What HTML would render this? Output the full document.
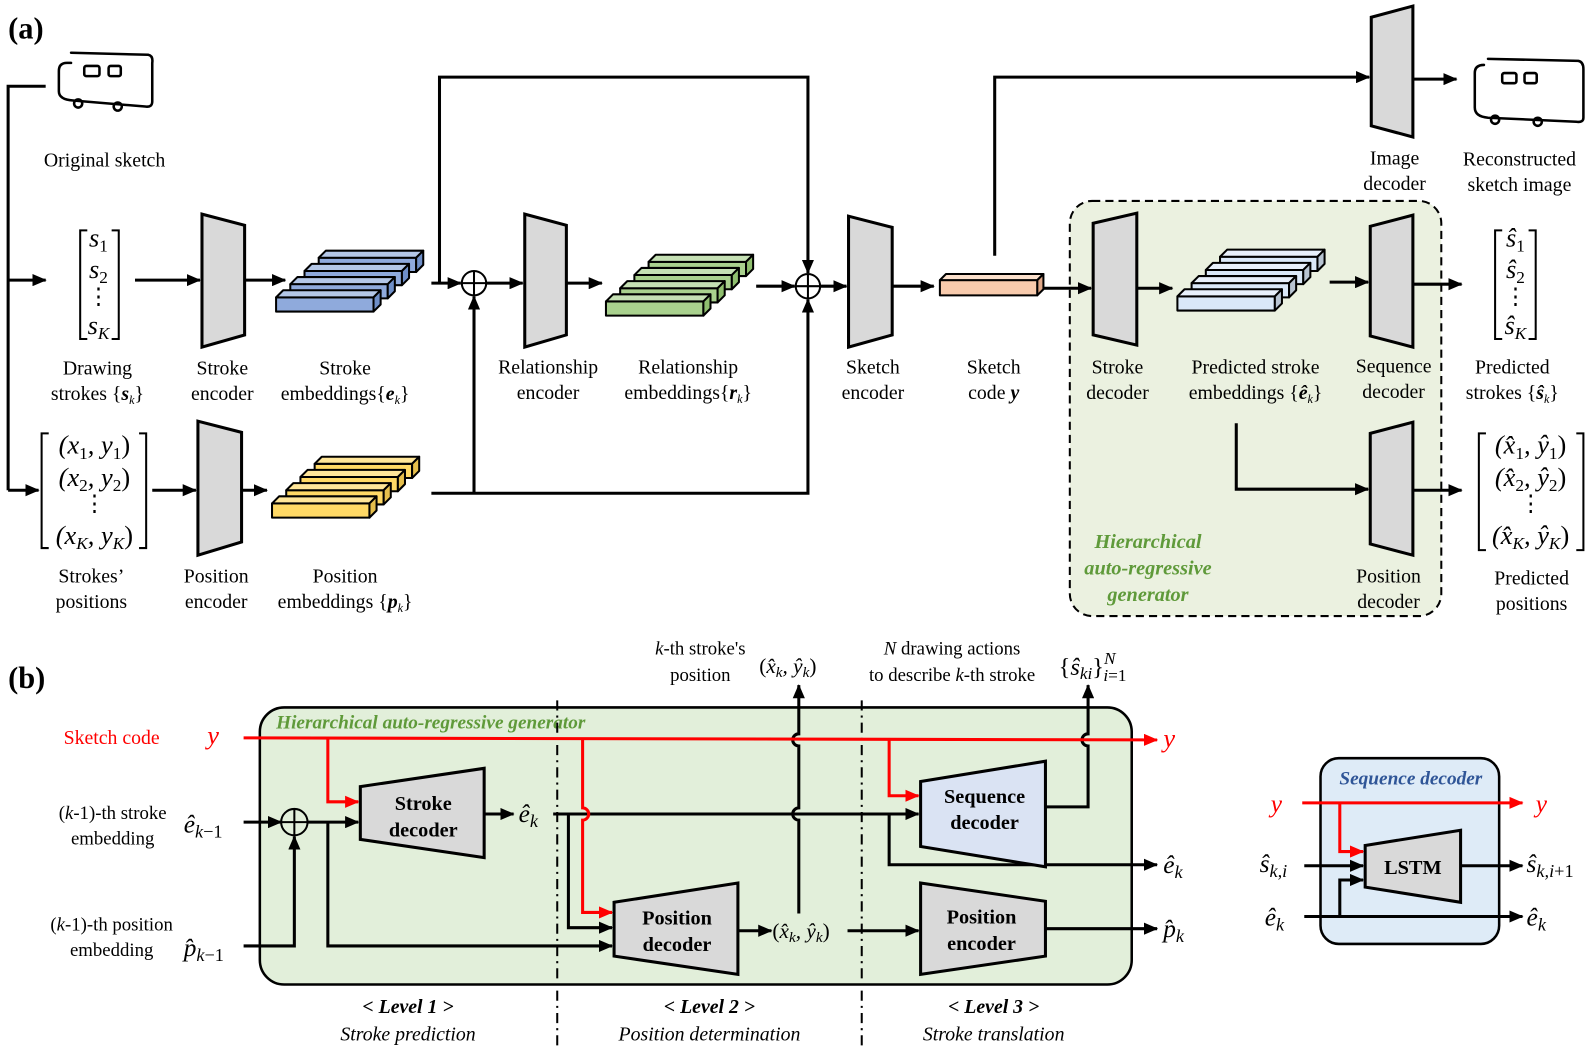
<!DOCTYPE html>
<html><head><meta charset="utf-8">
<style>
html,body{margin:0;padding:0;background:#fff;}
svg{display:block;}
text{font-family:"Liberation Serif","DejaVu Serif",serif;}
.t{font-size:19.5px;fill:#000;text-anchor:middle;}
.m{font-style:italic;}
.b{font-weight:bold;}
</style></head><body>
<svg width="1594" height="1047" viewBox="0 0 1594 1047" xmlns="http://www.w3.org/2000/svg">
<defs>
<marker id="a" markerUnits="userSpaceOnUse" markerWidth="14" markerHeight="12" refX="13" refY="6" orient="auto"><path d="M0,0 L14,6 L0,12 z" fill="#000"/></marker>
<marker id="r" markerUnits="userSpaceOnUse" markerWidth="14" markerHeight="12" refX="13" refY="6" orient="auto"><path d="M0,0 L14,6 L0,12 z" fill="#f00"/></marker>
</defs>
<g transform="translate(0,2) scale(1.015)">
<text x="8" y="36" style="font-size:30px;font-weight:bold">(a)</text>
<g fill="none" stroke="#000" stroke-width="2.5" stroke-linecap="round">
<path d="M70,50 L146,52 Q151,53 150,60 L150,98 Q150,104 143,103 L72,97 Q58,96 58,88 L58,68 Q58,60 66,60 L70,60"/>
<rect x="83" y="63" width="15" height="10" rx="2"/><rect x="107" y="63" width="12" height="10" rx="2"/>
<circle cx="77" cy="100" r="4"/><circle cx="116" cy="103" r="4"/>
</g>
<text class="t" x="103" y="162">Original sketch</text>
<g fill="none" stroke="#000" stroke-width="3">
<path d="M45,83 L8,83 L8,481"/>
<path d="M8,274 L45,274" marker-end="url(#a)"/>
<path d="M8,481 L38,481" marker-end="url(#a)"/>
<path d="M133,274 L197,274" marker-end="url(#a)"/>
<path d="M241,274 L281,274" marker-end="url(#a)"/>
<path d="M425,277 L454,277" marker-end="url(#a)"/>
<path d="M433,277 L433,74 L796,74 L796,267" marker-end="url(#a)"/>
<path d="M479,277 L515,277" marker-end="url(#a)"/>
<path d="M558,277 L593,277" marker-end="url(#a)"/>
<path d="M745,280 L783,280" marker-end="url(#a)"/>
<path d="M808,280 L834,280" marker-end="url(#a)"/>
<path d="M879,280 L920,280" marker-end="url(#a)"/>
<path d="M980,250 L980,74 L1349,74" marker-end="url(#a)"/>
<path d="M1392,76 L1435,76" marker-end="url(#a)"/>
<path d="M425,484 L796,484 L796,293" marker-end="url(#a)"/>
<path d="M467,484 L467,290" marker-end="url(#a)"/>
<path d="M150,481 L193,481" marker-end="url(#a)"/>
<path d="M238,481 L263,481" marker-end="url(#a)"/>
</g>
<g fill="#fff" stroke="#000" stroke-width="2">
<circle cx="467" cy="277" r="12"/><circle cx="796" cy="280" r="12"/>
</g>
<path d="M455,277 L479,277 M467,265 L467,289 M784,280 L808,280 M796,268 L796,292" stroke="#000" stroke-width="2"/>
<g fill="#d9d9d9" stroke="#000" stroke-width="3" stroke-linejoin="miter">
<polygon points="199,209 241,220 241,328 199,340"/>
<polygon points="517,209 558,220 558,328 517,340"/>
<polygon points="836,211 879,222 879,328 836,340"/>
<polygon points="195,413 238,424 238,532 195,545"/>
<polygon points="1351,15 1392,4 1392,133 1351,122"/>
</g>
<g stroke="#000" stroke-width="2" stroke-linejoin="round">
<g>
<g transform="translate(314,252)"><rect width="96" height="14" fill="#8faadc"/><polygon points="0,0 7,-7 103,-7 96,0" fill="#b4c7e7"/><polygon points="96,0 103,-7 103,7 96,14" fill="#6f8fc8"/></g>
<g transform="translate(300,265)"><rect width="96" height="14" fill="#8faadc"/><polygon points="0,0 7,-7 103,-7 96,0" fill="#b4c7e7"/><polygon points="96,0 103,-7 103,7 96,14" fill="#6f8fc8"/></g>
<g transform="translate(286,278)"><rect width="96" height="14" fill="#8faadc"/><polygon points="0,0 7,-7 103,-7 96,0" fill="#b4c7e7"/><polygon points="96,0 103,-7 103,7 96,14" fill="#6f8fc8"/></g>
<g transform="translate(272,291)"><rect width="96" height="14" fill="#8faadc"/><polygon points="0,0 7,-7 103,-7 96,0" fill="#b4c7e7"/><polygon points="96,0 103,-7 103,7 96,14" fill="#6f8fc8"/></g>
</g>
<g>
<g transform="translate(639,256)"><rect width="96" height="14" fill="#a9d18e"/><polygon points="0,0 7,-7 103,-7 96,0" fill="#c5e0b4"/><polygon points="96,0 103,-7 103,7 96,14" fill="#8fbf6f"/></g>
<g transform="translate(625,269)"><rect width="96" height="14" fill="#a9d18e"/><polygon points="0,0 7,-7 103,-7 96,0" fill="#c5e0b4"/><polygon points="96,0 103,-7 103,7 96,14" fill="#8fbf6f"/></g>
<g transform="translate(611,282)"><rect width="96" height="14" fill="#a9d18e"/><polygon points="0,0 7,-7 103,-7 96,0" fill="#c5e0b4"/><polygon points="96,0 103,-7 103,7 96,14" fill="#8fbf6f"/></g>
<g transform="translate(597,295)"><rect width="96" height="14" fill="#a9d18e"/><polygon points="0,0 7,-7 103,-7 96,0" fill="#c5e0b4"/><polygon points="96,0 103,-7 103,7 96,14" fill="#8fbf6f"/></g>
</g>
<g>
<g transform="translate(310,455)"><rect width="96" height="14" fill="#ffd966"/><polygon points="0,0 7,-7 103,-7 96,0" fill="#ffe699"/><polygon points="96,0 103,-7 103,7 96,14" fill="#e6bf4c"/></g>
<g transform="translate(296,468)"><rect width="96" height="14" fill="#ffd966"/><polygon points="0,0 7,-7 103,-7 96,0" fill="#ffe699"/><polygon points="96,0 103,-7 103,7 96,14" fill="#e6bf4c"/></g>
<g transform="translate(282,481)"><rect width="96" height="14" fill="#ffd966"/><polygon points="0,0 7,-7 103,-7 96,0" fill="#ffe699"/><polygon points="96,0 103,-7 103,7 96,14" fill="#e6bf4c"/></g>
<g transform="translate(268,494)"><rect width="96" height="14" fill="#ffd966"/><polygon points="0,0 7,-7 103,-7 96,0" fill="#ffe699"/><polygon points="96,0 103,-7 103,7 96,14" fill="#e6bf4c"/></g>
</g>
<g transform="translate(926,274)"><rect width="96" height="15" fill="#f8cbad"/><polygon points="0,0 6,-6 102,-6 96,0" fill="#fbe0cc"/><polygon points="96,0 102,-6 102,9 96,15" fill="#e0a888"/></g>
</g>
<rect x="1054" y="196" width="366" height="409" rx="22" fill="#ebf1e0" stroke="#000" stroke-width="2" stroke-dasharray="8,5"/>
<g fill="none" stroke="#000" stroke-width="3">
<path d="M1028,282 L1075,282" marker-end="url(#a)"/>
<path d="M1120,282 L1155,282" marker-end="url(#a)"/>
<path d="M1310,276 L1348,276" marker-end="url(#a)"/>
<path d="M1392,278 L1440,278" marker-end="url(#a)"/>
<path d="M1218,415 L1218,480 L1348,480" marker-end="url(#a)"/>
<path d="M1392,481 L1440,481" marker-end="url(#a)"/>
</g>
<g fill="#d9d9d9" stroke="#000" stroke-width="3">
<polygon points="1077,218 1120,208 1120,338 1077,328"/>
<polygon points="1350,221 1392,210 1392,340 1350,329"/>
<polygon points="1350,425 1392,414 1392,545 1350,534"/>
</g>
<g stroke="#000" stroke-width="2" stroke-linejoin="round">
<g transform="translate(1202,251)"><rect width="96" height="14" fill="#dae8f8"/><polygon points="0,0 7,-7 103,-7 96,0" fill="#e8f0fb"/><polygon points="96,0 103,-7 103,7 96,14" fill="#b8c4d2"/></g>
<g transform="translate(1188,264)"><rect width="96" height="14" fill="#dae8f8"/><polygon points="0,0 7,-7 103,-7 96,0" fill="#e8f0fb"/><polygon points="96,0 103,-7 103,7 96,14" fill="#b8c4d2"/></g>
<g transform="translate(1174,277)"><rect width="96" height="14" fill="#dae8f8"/><polygon points="0,0 7,-7 103,-7 96,0" fill="#e8f0fb"/><polygon points="96,0 103,-7 103,7 96,14" fill="#b8c4d2"/></g>
<g transform="translate(1160,290)"><rect width="96" height="14" fill="#dae8f8"/><polygon points="0,0 7,-7 103,-7 96,0" fill="#e8f0fb"/><polygon points="96,0 103,-7 103,7 96,14" fill="#b8c4d2"/></g>
</g>
<g fill="none" stroke="#000" stroke-width="2.5" stroke-linecap="round">
<path d="M1466,56 L1555,58 Q1560,59 1560,66 L1560,114 Q1560,119 1553,118 L1466,114 Q1453,113 1453,104 L1453,70 Q1453,62 1462,62"/>
<rect x="1480" y="70" width="14" height="10" rx="2"/><rect x="1502" y="70" width="12" height="10" rx="2"/>
<circle cx="1473" cy="116" r="4"/><circle cx="1515" cy="118" r="4"/>
</g>
<g fill="none" stroke="#000" stroke-width="2">
<path d="M86,225 L79,225 L79,332 L86,332 M110,225 L117,225 L117,332 L110,332"/>
<path d="M48,425 L41,425 L41,538 L48,538 M137,425 L144,425 L144,538 L137,538"/>
<path d="M1480,225 L1473,225 L1473,332 L1480,332 M1506,225 L1513,225 L1513,332 L1506,332"/>
<path d="M1464,425 L1457,425 L1457,540 L1464,540 M1553,425 L1560,425 L1560,540 L1553,540"/>
</g>
<g class="t m" style="font-size:26px">
<text x="97" y="241">s<tspan font-size="17" dy="5" font-style="normal">1</tspan></text>
<text x="97" y="272">s<tspan font-size="17" dy="5" font-style="normal">2</tspan></text>
<text x="97" y="297" style="font-style:normal;font-size:22px">⋮</text>
<text x="97" y="327">s<tspan font-size="17" dy="5">K</tspan></text>
<text x="93" y="445" style="font-size:26px">(x<tspan font-size="17" dy="5" font-style="normal">1</tspan><tspan dy="-5">, y</tspan><tspan font-size="17" dy="5" font-style="normal">1</tspan><tspan dy="-5" font-style="normal">)</tspan></text>
<text x="93" y="477" style="font-size:26px">(x<tspan font-size="17" dy="5" font-style="normal">2</tspan><tspan dy="-5">, y</tspan><tspan font-size="17" dy="5" font-style="normal">2</tspan><tspan dy="-5" font-style="normal">)</tspan></text>
<text x="93" y="501" style="font-style:normal;font-size:22px">⋮</text>
<text x="93" y="534" style="font-size:26px">(x<tspan font-size="17" dy="5">K</tspan><tspan dy="-5">, y</tspan><tspan font-size="17" dy="5">K</tspan><tspan dy="-5" font-style="normal">)</tspan></text>
<text x="1493" y="241">ŝ<tspan font-size="17" dy="5" font-style="normal">1</tspan></text>
<text x="1493" y="272">ŝ<tspan font-size="17" dy="5" font-style="normal">2</tspan></text>
<text x="1493" y="297" style="font-style:normal;font-size:22px">⋮</text>
<text x="1493" y="327">ŝ<tspan font-size="17" dy="5">K</tspan></text>
<text x="1508" y="445" style="font-size:26px">(x̂<tspan font-size="17" dy="5" font-style="normal">1</tspan><tspan dy="-5">, ŷ</tspan><tspan font-size="17" dy="5" font-style="normal">1</tspan><tspan dy="-5" font-style="normal">)</tspan></text>
<text x="1508" y="477" style="font-size:26px">(x̂<tspan font-size="17" dy="5" font-style="normal">2</tspan><tspan dy="-5">, ŷ</tspan><tspan font-size="17" dy="5" font-style="normal">2</tspan><tspan dy="-5" font-style="normal">)</tspan></text>
<text x="1508" y="501" style="font-style:normal;font-size:22px">⋮</text>
<text x="1508" y="534" style="font-size:26px">(x̂<tspan font-size="17" dy="5">K</tspan><tspan dy="-5">, ŷ</tspan><tspan font-size="17" dy="5">K</tspan><tspan dy="-5" font-style="normal">)</tspan></text>
</g>
<g class="t">
<text x="96" y="367">Drawing</text><text x="96" y="392">strokes {<tspan class="b m">s</tspan><tspan font-size="12" dy="4" class="m">k</tspan><tspan dy="-4">}</tspan></text>
<text x="219" y="367">Stroke</text><text x="219" y="392">encoder</text>
<text x="340" y="367">Stroke</text><text x="340" y="392">embeddings{<tspan class="b m">e</tspan><tspan font-size="12" dy="4" class="m">k</tspan><tspan dy="-4">}</tspan></text>
<text x="540" y="366">Relationship</text><text x="540" y="391">encoder</text>
<text x="678" y="366">Relationship</text><text x="678" y="391">embeddings{<tspan class="b m">r</tspan><tspan font-size="12" dy="4" class="m">k</tspan><tspan dy="-4">}</tspan></text>
<text x="860" y="366">Sketch</text><text x="860" y="391">encoder</text>
<text x="979" y="366">Sketch</text><text x="979" y="391">code <tspan class="b m">y</tspan></text>
<text x="1101" y="366">Stroke</text><text x="1101" y="391">decoder</text>
<text x="1237" y="366">Predicted stroke</text><text x="1237" y="391">embeddings {<tspan class="b m">ê</tspan><tspan font-size="12" dy="4" class="m">k</tspan><tspan dy="-4">}</tspan></text>
<text x="1373" y="365">Sequence</text><text x="1373" y="390">decoder</text>
<text x="1490" y="366">Predicted</text><text x="1490" y="391">strokes {<tspan class="b m">ŝ</tspan><tspan font-size="12" dy="4" class="m">k</tspan><tspan dy="-4">}</tspan></text>
<text x="1374" y="160">Image</text><text x="1374" y="185">decoder</text>
<text x="1497" y="161">Reconstructed</text><text x="1497" y="186">sketch image</text>
<text x="90" y="572">Strokes’</text><text x="90" y="597">positions</text>
<text x="213" y="572">Position</text><text x="213" y="597">encoder</text>
<text x="340" y="572">Position</text><text x="340" y="597">embeddings {<tspan class="b m">p</tspan><tspan font-size="12" dy="4" class="m">k</tspan><tspan dy="-4">}</tspan></text>
<text x="1368" y="572">Position</text><text x="1368" y="597">decoder</text>
<text x="1509" y="574">Predicted</text><text x="1509" y="599">positions</text>
<g class="b m" style="fill:#5f9a3a;font-size:20px"><text x="1131" y="538">Hierarchical</text><text x="1131" y="564">auto-regressive</text><text x="1131" y="590">generator</text></g>
</g>

<text x="8" y="676" style="font-size:30px;font-weight:bold">(b)</text>
<rect x="256" y="695" width="859" height="273" rx="24" fill="#e2efda" stroke="#000" stroke-width="2.5"/>
<text x="272" y="716" class="b m" style="font-size:19px;fill:#5f9a3a">Hierarchical auto-regressive generator</text>
<g stroke="#000" stroke-width="2" stroke-dasharray="10,5,2,5">
<line x1="549" y1="688" x2="549" y2="1030"/><line x1="849" y1="688" x2="849" y2="1030"/>
</g>
<g fill="none" stroke="#000" stroke-width="3">
<path d="M240,808 L277,808" marker-end="url(#a)"/>
<path d="M303,808 L353,808" marker-end="url(#a)"/>
<path d="M323,808 L323,930 L603,930" marker-end="url(#a)"/>
<path d="M240,930 L290,930 L290,822" marker-end="url(#a)"/>
<path d="M477,800 L506,800" marker-end="url(#a)"/>
<path d="M545,800 L905,800" marker-end="url(#a)"/>
<path d="M560,800 L560,912 L603,912" marker-end="url(#a)"/>
<path d="M876,800 L876,850 L1140,850" marker-end="url(#a)"/>
<path d="M727,915 L760,915" marker-end="url(#a)"/>
<path d="M787,898 L787,806 A6,6 0 0 1 787,794 L787,733 A6,6 0 0 1 787,721 L787,673" marker-end="url(#a)"/>
<path d="M835,915 L905,915" marker-end="url(#a)"/>
<path d="M1030,913 L1140,913" marker-end="url(#a)"/>
<path d="M1030,793 L1072,793 L1072,733 A6,6 0 0 1 1072,721 L1072,673" marker-end="url(#a)"/>
</g>
<g fill="none" stroke="#f00" stroke-width="3">
<path d="M240,725 L1140,727" marker-end="url(#r)"/>
<path d="M323,725 L323,788 L353,788" marker-end="url(#r)"/>
<path d="M574,725 L574,794 A6,6 0 0 1 574,806 L574,897 L603,897" marker-end="url(#r)"/>
<path d="M876,727 L876,782 L905,782" marker-end="url(#r)"/>
</g>
<circle cx="290" cy="808" r="13" fill="none" stroke="#000" stroke-width="2"/>
<path d="M277,808 L303,808 M290,795 L290,821" stroke="#000" stroke-width="2"/>
<g stroke="#000" stroke-width="3">
<polygon points="355,773 477,755 477,843 355,825" fill="#d9d9d9"/>
<polygon points="605,887 727,868 727,958 605,940" fill="#d9d9d9"/>
<polygon points="907,768 1030,748 1030,852 907,832" fill="#dae3f3"/>
<polygon points="907,868 1030,886 1030,940 907,958" fill="#d9d9d9"/>
</g>
<g class="t b" style="font-size:20px">
<text x="417" y="796">Stroke</text><text x="417" y="822">decoder</text>
<text x="667" y="909">Position</text><text x="667" y="935">decoder</text>
<text x="970" y="789">Sequence</text><text x="970" y="815">decoder</text>
<text x="967" y="908">Position</text><text x="967" y="934">encoder</text>
</g>
<g class="t">
<text x="110" y="731" style="fill:#f00">Sketch code</text>
<text x="210" y="731" class="m" style="fill:#f00;font-size:26px">y</text>
<text x="1152" y="734" class="m" style="fill:#f00;font-size:26px">y</text>
<text x="111" y="805" style="font-size:18.5px">(<tspan class="m">k</tspan>-1)-th stroke</text><text x="111" y="830" style="font-size:18.5px">embedding</text>
<text x="110" y="915" style="font-size:18.5px">(<tspan class="m">k</tspan>-1)-th position</text><text x="110" y="940" style="font-size:18.5px">embedding</text>
<text x="690" y="643" style="font-size:18.5px"><tspan class="m">k</tspan>-th stroke's</text><text x="690" y="669" style="font-size:18.5px">position</text>
<text x="938" y="643" style="font-size:18.5px"><tspan class="m">N</tspan> drawing actions</text><text x="938" y="669" style="font-size:18.5px">to describe <tspan class="m">k</tspan>-th stroke</text>
<text x="402" y="996" class="b m">&lt; Level 1 &gt;</text><text x="402" y="1023" class="m">Stroke prediction</text>
<text x="699" y="996" class="b m">&lt; Level 2 &gt;</text><text x="699" y="1023" class="m">Position determination</text>
<text x="979" y="996" class="b m">&lt; Level 3 &gt;</text><text x="979" y="1023" class="m">Stroke translation</text>
</g>
<g class="m" style="font-size:25px">
<text x="181" y="818">ê<tspan font-size="18" dy="5">k</tspan><tspan font-size="18" font-style="normal">−1</tspan></text>
<text x="181" y="940">p̂<tspan font-size="18" dy="5">k</tspan><tspan font-size="18" font-style="normal">−1</tspan></text>
<text x="511" y="808">ê<tspan font-size="18" dy="5">k</tspan></text>
<text x="761" y="922" style="font-size:21px"><tspan font-style="normal">(</tspan>x̂<tspan font-size="15" dy="4">k</tspan><tspan dy="-4">, ŷ</tspan><tspan font-size="15" dy="4">k</tspan><tspan dy="-4" font-style="normal">)</tspan></text>
<text x="748" y="661" style="font-size:21px"><tspan font-style="normal">(</tspan>x̂<tspan font-size="15" dy="4">k</tspan><tspan dy="-4">, ŷ</tspan><tspan font-size="15" dy="4">k</tspan><tspan dy="-4" font-style="normal">)</tspan></text>
<text x="1043" y="663" style="font-size:24px"><tspan font-style="normal">{</tspan>ŝ<tspan font-size="17" dy="4">ki</tspan><tspan font-style="normal" dy="-4">}</tspan><tspan font-size="17" dy="-11">N</tspan><tspan font-size="17" dx="-12" dy="17">i</tspan><tspan font-size="17" font-style="normal">=1</tspan></text>
<text x="1146" y="858">ê<tspan font-size="18" dy="5">k</tspan></text>
<text x="1146" y="921">p̂<tspan font-size="18" dy="5">k</tspan></text>
</g>
<rect x="1301" y="745" width="176" height="183" rx="18" fill="#deebf7" stroke="#000" stroke-width="2.5"/>
<text x="1390" y="771" class="t b m" style="fill:#2f5597;font-size:19px">Sequence decoder</text>
<g fill="none" stroke="#000" stroke-width="3">
<path d="M1285,851 L1343,851" marker-end="url(#a)"/>
<path d="M1285,901 L1500,901" marker-end="url(#a)"/>
<path d="M1320,901 L1320,865 L1343,865" marker-end="url(#a)"/>
<path d="M1439,851 L1500,851" marker-end="url(#a)"/>
</g>
<g fill="none" stroke="#f00" stroke-width="3">
<path d="M1283,789 L1500,789" marker-end="url(#r)"/>
<path d="M1320,789 L1320,837 L1343,837" marker-end="url(#r)"/>
</g>
<polygon points="1345,831 1439,816 1439,887 1345,872" fill="#d9d9d9" stroke="#000" stroke-width="3"/>
<text x="1392" y="859" class="t b" style="font-size:20px">LSTM</text>
<g class="m" style="font-size:25px">
<text x="1252" y="798" style="fill:#f00">y</text>
<text x="1513" y="798" style="fill:#f00">y</text>
<text x="1241" y="857">ŝ<tspan font-size="18" dy="5">k,i</tspan></text>
<text x="1246" y="910">ê<tspan font-size="18" dy="5">k</tspan></text>
<text x="1504" y="857">ŝ<tspan font-size="18" dy="5">k,i</tspan><tspan font-size="18" font-style="normal">+1</tspan></text>
<text x="1504" y="910">ê<tspan font-size="18" dy="5">k</tspan></text>
</g>
</g>
</svg>
</body></html>
